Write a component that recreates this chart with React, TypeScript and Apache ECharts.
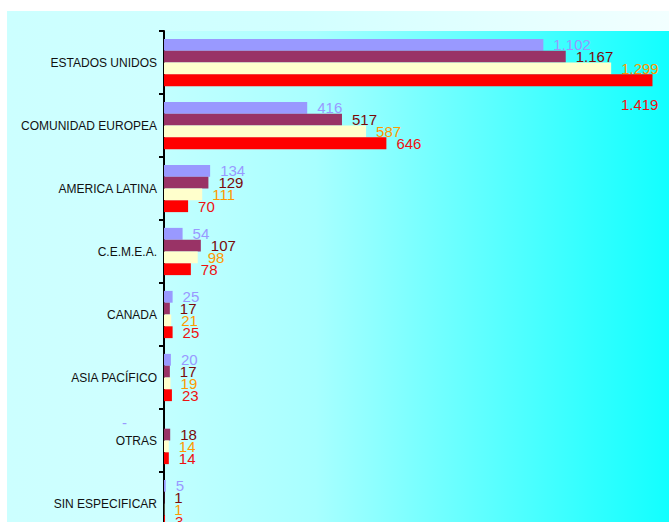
import React, { useEffect, useRef } from "react";
import * as echarts from "echarts";

const categories = [
  "ESTADOS UNIDOS",
  "COMUNIDAD EUROPEA",
  "AMERICA LATINA",
  "C.E.M.E.A.",
  "CANADA",
  "ASIA PACÍFICO",
  "OTRAS",
  "SIN ESPECIFICAR",
];

const seriesA: (number | null)[] = [1102, 416, 134, 54, 25, 20, null, 5];
const seriesB: (number | null)[] = [1167, 517, 129, 107, 17, 17, 18, 1];
const seriesC: (number | null)[] = [1299, 587, 111, 98, 21, 19, 14, 1];
const seriesD: (number | null)[] = [1419, 646, 70, 78, 25, 23, 14, 3];

const barColors = ["#9999FF", "#993366", "#FFFFCC", "#FF0000"];
const labelColors = ["#9999FF", "#7A0A0A", "#FF9900", "#EE1111"];

const FONT = '"Liberation Sans", Arial, sans-serif';

function fmt(v: number): string {
  return String(v).replace(/\B(?=(\d{3})+(?!\d))/g, ".");
}

export default function App() {
  const ref = useRef<HTMLDivElement>(null);
  useEffect(() => {
    if (!ref.current) return;
    const chart = echarts.init(ref.current, null, { renderer: "svg" });
    const all = [seriesA, seriesB, seriesC, seriesD];
    const series = all.map((arr, si) => ({
      type: "bar" as const,
      barGap: "0%",
      barCategoryGap: "25%",
      itemStyle: { color: barColors[si] },
      label: {
        show: true,
        position: "right" as const,
        distance: 10,
        color: labelColors[si],
        fontFamily: FONT,
        fontSize: 15,
        formatter: (p: any) => fmt(p.value),
      },
      data: arr.map((v, ci) => {
        if (v === null) {
          return {
            value: 0,
            label: { formatter: "-", position: "left", distance: 37 },
          };
        }
        if (si === 3 && ci === 0) {
          return {
            value: v,
            label: {
              position: ["100%", "100%"],
              align: "right",
              verticalAlign: "middle",
              offset: [6, 18],
            },
          };
        }
        return v;
      }),
    }));

    chart.setOption({
      animation: false,
      grid: {
        left: 157,
        top: 20,
        right: 0,
        height: 504,
        show: true,
        borderWidth: 0,
        outerBoundsMode: "none",
        containLabel: false,
        backgroundColor: new echarts.graphic.LinearGradient(0, 0, 1, 0, [
          { offset: 0, color: "#C2FFFF" },
          { offset: 0.3, color: "#A8FFFF" },
          { offset: 0.55, color: "#70FFFF" },
          { offset: 0.85, color: "#30FFFF" },
          { offset: 1, color: "#12FFFF" },
        ]),
      },
      xAxis: {
        type: "value",
        min: 0,
        max: 1467,
        show: false,
        splitLine: { show: false },
      },
      yAxis: {
        type: "category",
        inverse: true,
        data: categories,
        axisLine: { show: true, lineStyle: { color: "#000", width: 2 } },
        axisTick: { show: true, length: 5, lineStyle: { color: "#000", width: 2 } },
        axisLabel: {
          interval: 0,
          margin: 7,
          color: "#111",
          fontFamily: FONT,
          fontSize: 12,
        },
      },
      series,
    });
    return () => chart.dispose();
  }, []);

  return (
    <div
      style={{
        position: "fixed",
        left: 7,
        top: 11,
        width: 662,
        height: 511,
        overflow: "hidden",
        background: "linear-gradient(to right, #CCFFFF 0%, #D2FFFF 45%, #F2FFFF 100%)",
      }}
    >
      <div ref={ref} style={{ width: 662, height: 540 }} />
    </div>
  );
}
